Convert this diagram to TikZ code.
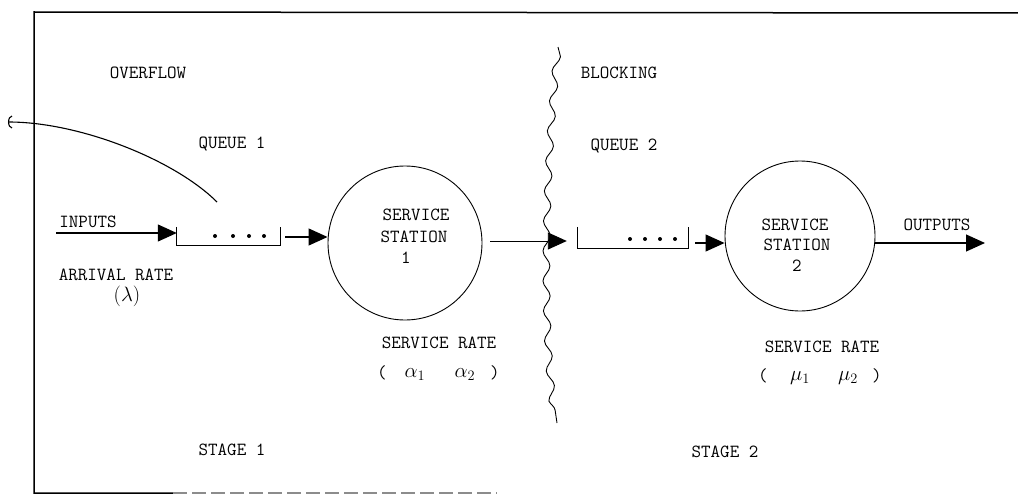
\documentclass[tikz,border=0pt]{standalone}
\usetikzlibrary{arrows.meta,decorations.pathmorphing}
\begin{document}
\begin{tikzpicture}[x=1pt,y=-1pt,
  lbl/.style={font=\ttfamily\fontsize{18.5}{20}\selectfont, inner sep=0pt, anchor=base},
  greek/.style={font=\fontsize{17.28}{20}\selectfont, inner sep=0pt, anchor=base, scale=1.2},
  station/.style={draw, circle, line width=0.9pt, minimum size=150pt, inner sep=0pt},
  qbox/.style={rectangle, inner sep=0pt},
  qline/.style={line width=1.1pt},
  flow/.style={line width=1.2pt, -{Triangle[length=19pt,width=17pt]}},
  frame/.style={line width=1.5pt},
  qdot/.style={circle, fill, inner sep=0pt, minimum size=4pt}
]
\useasboundingbox (0,0) rectangle (1018,495);

% enclosing frame (open on the right)
\draw[frame] (1018,13) -- (34,12) -- (34,493) -- (173,493);
\draw[line width=1.2pt, black!45, dash pattern=on 14pt off 5pt] (173,493) -- (497,493);

% stations
\node[station, minimum size=154pt] (c1) at (405,243) {};
\node[station] (c2) at (800,236) {};

% queues (open-topped trays)
\node[qbox, minimum width=103pt, minimum height=18pt] (q1) at (228.5,236) {};
\node[qbox, minimum width=110pt, minimum height=21pt] (q2) at (633,237.5) {};
\draw[qline] (q1.north west) -- (q1.south west) -- (q1.south east) -- (q1.north east);
\draw[qline] (q2.north west) -- (q2.south west) -- (q2.south east) -- (q2.north east);
\foreach \x in {215,233,249,264} \node[qdot] at (\x,236) {};
\foreach \x in {630,645,660,675} \node[qdot] at (\x,239) {};

% free ends of connectors
\coordinate (in) at (56,233);
\coordinate (out) at (985,243);
\coordinate (ovf) at (217,202);
\coordinate (spill) at (8,122);

% flows
\draw[flow] (in) -- (q1.west |- in);
\draw[flow] ([xshift=5pt]q1.east |- 0,237) -- (c1.west |- 0,237);
\draw[flow, line width=0.9pt] ([xshift=8pt]c1.east |- 0,241) -- ([xshift=-11pt]q2.west |- 0,241);
\draw[flow] ([xshift=7pt]q2.east |- 0,243) -- (c2.west |- 0,243);
\draw[flow] (c2.east |- out) -- (out);

% overflow path leaving the system
\draw[line width=1.1pt, -{Arc Barb[length=4pt,width=13pt]}]
  (ovf) .. controls (175,160) and (80,122) .. (spill);

% blocking boundary
\draw[line width=0.9pt, decorate, decoration={snake, amplitude=3.5pt, segment length=30pt}]
  (558,47) .. controls (547,150) and (541,320) .. (557,423);

% labels, stage 1
\node[lbl] at (148,78) {OVERFLOW};
\node[lbl] at (232,148) {QUEUE 1};
\node[lbl] at (88,227) {INPUTS};
\node[lbl] at (116,280) {ARRIVAL RATE};
\node[greek] at (127,301) {$(\lambda)$};
\node[lbl] at (416,220) {SERVICE};
\node[lbl] at (414,242) {STATION};
\node[lbl] at (406,263) {1};
\node[lbl] at (439,348) {SERVICE RATE};
\node[lbl] at (382,378) {(};
\node[greek] at (415,377) {$\alpha_1$};
\node[greek] at (465,377) {$\alpha_2$};
\node[lbl] at (495,378) {)};
\node[lbl] at (232,455) {STAGE 1};

% labels, stage 2
\node[lbl] at (619,79) {BLOCKING};
\node[lbl] at (624,150) {QUEUE 2};
\node[lbl] at (795,230) {SERVICE};
\node[lbl] at (797,250) {STATION};
\node[lbl] at (797,271) {2};
\node[lbl] at (937,230) {OUTPUTS};
\node[lbl] at (822,352) {SERVICE RATE};
\node[lbl] at (763,381) {(};
\node[greek] at (800,380) {$\mu_1$};
\node[greek] at (848,380) {$\mu_2$};
\node[lbl] at (877,381) {)};
\node[lbl] at (725,457) {STAGE 2};
\end{tikzpicture}
\end{document}
